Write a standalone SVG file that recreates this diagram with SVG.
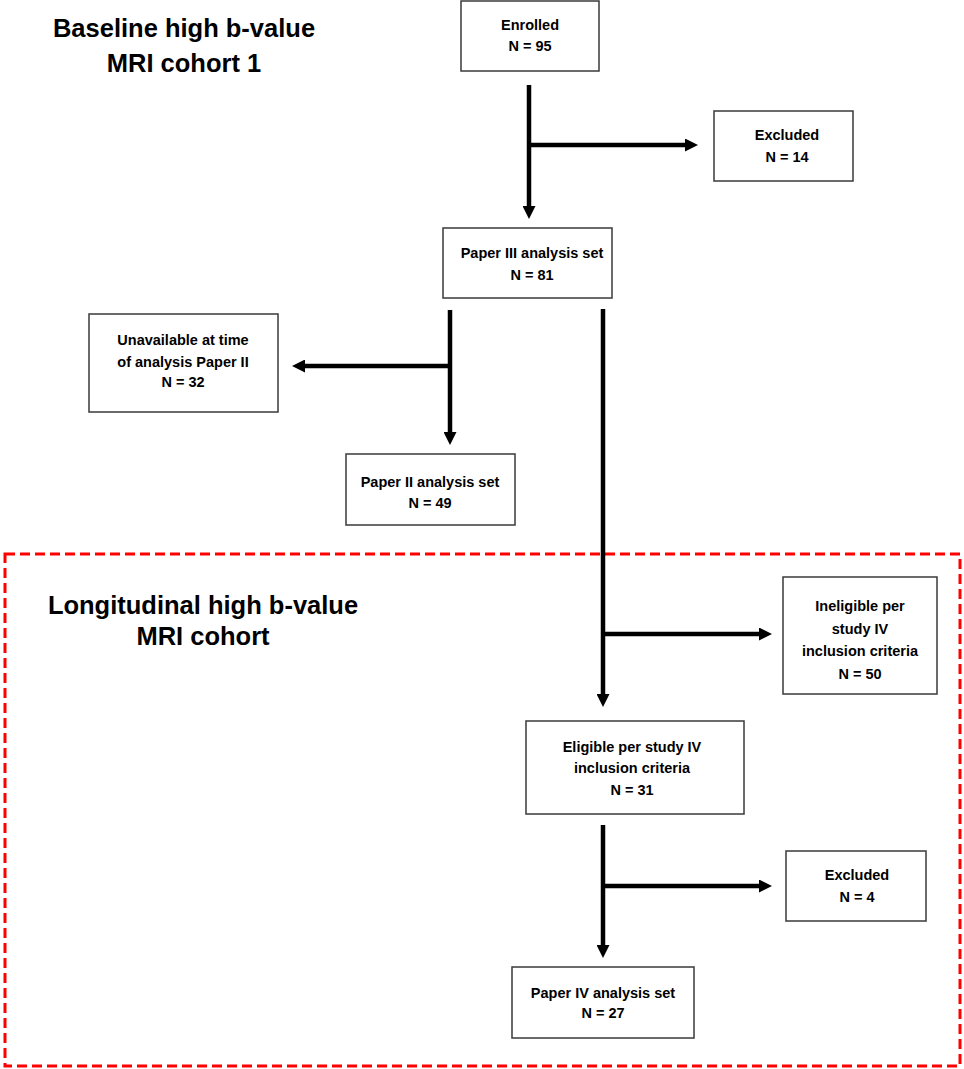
<svg xmlns="http://www.w3.org/2000/svg" width="964" height="1069" viewBox="0 0 964 1069">
<style>
.box{fill:#fff;stroke:#3a3a3a;stroke-width:1.5}
.t{font-family:"Liberation Sans",Arial,sans-serif;font-weight:bold;font-size:14.5px;fill:#000;text-anchor:middle}
.title{font-family:"Liberation Sans",Arial,sans-serif;font-weight:bold;font-size:25.5px;fill:#000;text-anchor:middle}
.c{fill:none;stroke:#000;stroke-width:4.5}
</style>
<defs>
<marker id="ah" viewBox="0 0 13 13" refX="5" refY="6.5" markerWidth="13" markerHeight="13" markerUnits="userSpaceOnUse" orient="auto">
<path d="M0,0 L13,6.5 L0,13 z" fill="#000"/>
</marker>
</defs>
<rect x="0" y="0" width="964" height="1069" fill="#fff"/>
<rect x="5" y="554" width="955" height="512" fill="none" stroke="#ff0000" stroke-width="3" stroke-dasharray="10 5"/>
<g id="title1">
<text class="title" x="184" y="37">Baseline high b-value</text>
<text class="title" x="184" y="72">MRI cohort 1</text>
</g>
<g id="title2">
<text class="title" x="203" y="614">Longitudinal high b-value</text>
<text class="title" x="203" y="645">MRI cohort</text>
</g>
<g id="connectors">
<path class="c" d="M529,85 V211" marker-end="url(#ah)"/>
<path class="c" d="M529,145 H690" marker-end="url(#ah)"/>
<path class="c" d="M450,310 V437" marker-end="url(#ah)"/>
<path class="c" d="M452,366 H300" marker-end="url(#ah)"/>
<path class="c" d="M603,309 V699" marker-end="url(#ah)"/>
<path class="c" d="M603,634 H764" marker-end="url(#ah)"/>
<path class="c" d="M603,825 V950" marker-end="url(#ah)"/>
<path class="c" d="M603,886 H764" marker-end="url(#ah)"/>
</g>
<g id="enrolled">
<rect class="box" x="461" y="1" width="138" height="70"/>
<text class="t" x="530" y="30">Enrolled</text>
<text class="t" x="530" y="51">N = 95</text>
</g>
<g id="excluded1">
<rect class="box" x="714" y="111" width="139" height="70"/>
<text class="t" x="787" y="140">Excluded</text>
<text class="t" x="787" y="162">N = 14</text>
</g>
<g id="paper3">
<rect class="box" x="443" y="228" width="169" height="70"/>
<text class="t" x="532" y="258">Paper III analysis set</text>
<text class="t" x="532" y="280">N = 81</text>
</g>
<g id="unavailable">
<rect class="box" x="89" y="314" width="189" height="98"/>
<text class="t" x="183" y="345">Unavailable at time</text>
<text class="t" x="183" y="367">of analysis Paper II</text>
<text class="t" x="183" y="387">N = 32</text>
</g>
<g id="paper2">
<rect class="box" x="346" y="454" width="169" height="71"/>
<text class="t" x="430" y="487">Paper II analysis set</text>
<text class="t" x="430" y="508">N = 49</text>
</g>
<g id="ineligible">
<rect class="box" x="783" y="577" width="154" height="117"/>
<text class="t" x="860" y="611">Ineligible per</text>
<text class="t" x="860" y="634">study IV</text>
<text class="t" x="860" y="656">inclusion criteria</text>
<text class="t" x="860" y="679">N = 50</text>
</g>
<g id="eligible">
<rect class="box" x="526" y="721" width="218" height="93"/>
<text class="t" x="632" y="752">Eligible per study IV</text>
<text class="t" x="632" y="773">inclusion criteria</text>
<text class="t" x="632" y="795">N = 31</text>
</g>
<g id="excluded2">
<rect class="box" x="786" y="851" width="140" height="70"/>
<text class="t" x="857" y="880">Excluded</text>
<text class="t" x="857" y="902">N = 4</text>
</g>
<g id="paper4">
<rect class="box" x="512" y="967" width="182" height="71"/>
<text class="t" x="603" y="998">Paper IV analysis set</text>
<text class="t" x="603" y="1018">N = 27</text>
</g>
</svg>
